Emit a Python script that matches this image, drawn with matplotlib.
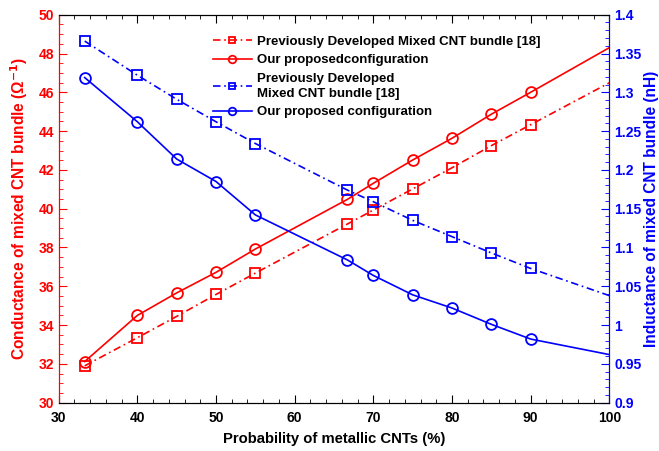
import matplotlib.pyplot as plt
from matplotlib.ticker import MultipleLocator, FuncFormatter

plt.rcParams['font.family'] = ['Liberation Sans', 'DejaVu Sans']
plt.rcParams['font.weight'] = 'bold'
plt.rcParams['mathtext.default'] = 'bf'

# probability of metallic CNTs (%)
prob = [33.3, 40, 45, 50, 55, 66.7, 70, 75, 80, 85, 90, 100]

# conductance (1/ohm)
cond_prev = [31.9, 33.35, 34.45, 35.58, 36.68, 39.21, 39.93, 41.02, 42.11, 43.25, 44.33, 46.49]
cond_ours = [32.12, 34.5, 35.66, 36.72, 37.92, 40.48, 41.31, 42.51, 43.63, 44.87, 46.0, 48.3]

# inductance (nH)
ind_prev = [1.366, 1.322, 1.291, 1.262, 1.234, 1.174, 1.159, 1.135, 1.114, 1.093, 1.073, 1.038]
ind_ours = [1.319, 1.262, 1.214, 1.185, 1.142, 1.084, 1.064, 1.039, 1.022, 1.001, 0.982, 0.962]

red = '#ff0000'
blue = '#0000ff'
dd = (4.5, 2.2, 1, 2.2)

fig = plt.figure(figsize=(6.59, 4.51), dpi=100)
ax = fig.add_axes([0.0891, 0.1071, 0.8355, 0.8603])
ax2 = ax.twinx()

# no marker at x=100
mk = list(range(len(prob) - 1))

l1, = ax.plot(prob, cond_prev, color=red, ls='-.', dashes=dd, lw=1.2, marker='s', ms=6.8,
              mfc='none', mew=1.3, markevery=mk, label='Previously Developed Mixed CNT bundle [18]')
l2, = ax.plot(prob, cond_ours, color=red, ls='-', lw=1.2, marker='o', ms=7.8,
              mfc='none', mew=1.3, markevery=mk, label='Our proposedconfiguration')
l3, = ax2.plot(prob, ind_prev, color=blue, ls='-.', dashes=dd, lw=1.2, marker='s', ms=6.8,
               mfc='none', mew=1.3, markevery=mk, label='Previously Developed\nMixed CNT bundle [18]')
l4, = ax2.plot(prob, ind_ours, color=blue, ls='-', lw=1.2, marker='o', ms=7.8,
               mfc='none', mew=1.3, markevery=mk, label='Our proposed configuration')

ax.set_xlim(30, 100)
ax.set_ylim(30, 50)
ax2.set_ylim(0.9, 1.4)

ax.xaxis.set_major_locator(MultipleLocator(10))
ax.xaxis.set_minor_locator(MultipleLocator(2))
ax.yaxis.set_major_locator(MultipleLocator(2))
ax.yaxis.set_minor_locator(MultipleLocator(0.5))
ax2.yaxis.set_major_locator(MultipleLocator(0.05))
ax2.yaxis.set_minor_locator(MultipleLocator(0.01))
ax2.yaxis.set_major_formatter(FuncFormatter(lambda v, p: '%g' % round(v, 2)))

ax.tick_params(axis='x', which='both', direction='in', top=True, colors='black', labelsize=10, pad=6)
ax.tick_params(axis='x', which='major', length=6)
ax.tick_params(axis='x', which='minor', length=3)
ax.tick_params(axis='y', which='both', direction='in', colors=red, labelsize=10)
ax.tick_params(axis='y', which='major', length=6)
ax.tick_params(axis='y', which='minor', length=3)
ax2.tick_params(axis='y', which='both', direction='in', colors=blue, labelsize=10)
ax2.tick_params(axis='y', which='major', length=6)
ax2.tick_params(axis='y', which='minor', length=3)

ax.spines['left'].set_color(red)
ax2.spines['left'].set_color(red)
ax2.spines['right'].set_color(blue)

ax.set_xlabel('Probability of metallic CNTs (%)', fontsize=10.7, fontweight='bold', labelpad=5)
ax.set_ylabel('Conductance of mixed CNT bundle (Ω$^{-1}$)', fontsize=11.2,
              fontweight='bold', color=red)
ax2.set_ylabel('Inductance of mixed CNT bundle (nH)', fontsize=11.2,
               fontweight='bold', color=blue)
ax.yaxis.set_label_coords(-0.052, 0.5)
ax2.yaxis.set_label_coords(1.0625, 0.5)

leg = ax2.legend(handles=[l1, l2, l3, l4], loc='upper left', bbox_to_anchor=(0.27, 0.96),
                 frameon=False, fontsize=9.5, handlelength=3.0, handletextpad=0.35,
                 labelspacing=0.48, borderaxespad=0, markerscale=0.7)
for t in leg.get_texts():
    t.set_linespacing(1.35)

fig.savefig('out.png', dpi=100)
